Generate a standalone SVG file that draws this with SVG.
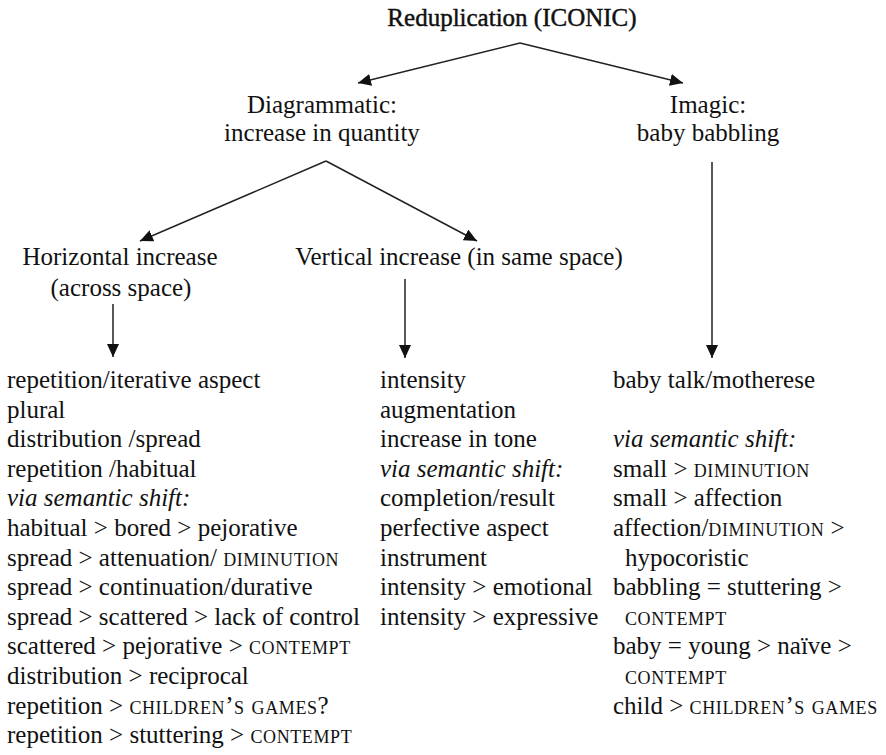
<svg xmlns="http://www.w3.org/2000/svg" width="886" height="755" viewBox="0 0 886 755">
  <style>
    text { font-family: "Liberation Serif", "DejaVu Serif", serif; font-size: 25px; fill: #111; }
    .c { text-anchor: middle; }
    .title { stroke: #111; stroke-width: 0.45; }
    .it { font-style: italic; }
    .sc { font-variant: small-caps; letter-spacing: 0.6px; }
    .edge { stroke: #222; stroke-width: 1.5; fill: none; marker-end: url(#head); }
  </style>
  <defs>
    <marker id="head" markerUnits="userSpaceOnUse" markerWidth="14" markerHeight="12" refX="13" refY="6" orient="auto">
      <path d="M0,0 L13,6 L0,12 Z" fill="#111"/>
    </marker>
  </defs>

  <rect width="886" height="755" fill="#fff"/>

  <!-- connectors -->
  <g id="connectors">
    <path class="edge" d="M520,43 L358,83"/>
    <path class="edge" d="M520,43 L683,83"/>
    <path class="edge" d="M326,161 L140,241"/>
    <path class="edge" d="M326,161 L477,241"/>
    <path class="edge" d="M113,304 L113,357"/>
    <path class="edge" d="M405,279 L405,358"/>
    <path class="edge" d="M712,162 L712,358"/>
  </g>

  <g id="root">
    <text class="c title" x="512" y="26">Reduplication (ICONIC)</text>
  </g>

  <g id="diagrammatic">
    <text class="c" x="322" y="113">Diagrammatic:</text>
    <text class="c" x="322" y="141">increase in quantity</text>
  </g>

  <g id="imagic">
    <text class="c" x="708" y="113">Imagic:</text>
    <text class="c" x="708" y="141">baby babbling</text>
  </g>

  <g id="horizontal">
    <text class="c" x="120" y="265">Horizontal increase</text>
    <text class="c" x="121" y="296">(across space)</text>
  </g>

  <g id="vertical">
    <text class="c" x="459" y="265">Vertical increase (in same space)</text>
  </g>

  <!-- meanings: horizontal increase -->
  <g id="horizontal-list">
    <text x="7" y="388">repetition/iterative aspect</text>
    <text x="7" y="417.6">plural</text>
    <text x="7" y="447.2">distribution /spread</text>
    <text x="7" y="476.8">repetition /habitual</text>
    <text x="7" y="506.4" class="it">via semantic shift:</text>
    <text x="7" y="536">habitual &gt; bored &gt; pejorative</text>
    <text x="7" y="565.6">spread &gt; attenuation/ <tspan class="sc">diminution</tspan></text>
    <text x="7" y="595.2">spread &gt; continuation/durative</text>
    <text x="7" y="624.8">spread &gt; scattered &gt; lack of control</text>
    <text x="7" y="654.4">scattered &gt; pejorative &gt; <tspan class="sc">contempt</tspan></text>
    <text x="7" y="684">distribution &gt; reciprocal</text>
    <text x="7" y="713.6">repetition &gt; <tspan class="sc">children’s games?</tspan></text>
    <text x="7" y="743.2">repetition &gt; stuttering &gt; <tspan class="sc">contempt</tspan></text>
  </g>

  <!-- meanings: vertical increase -->
  <g id="vertical-list">
    <text x="380" y="388">intensity</text>
    <text x="380" y="417.6">augmentation</text>
    <text x="380" y="447.2">increase in tone</text>
    <text x="380" y="476.8" class="it">via semantic shift:</text>
    <text x="380" y="506.4">completion/result</text>
    <text x="380" y="536">perfective aspect</text>
    <text x="380" y="565.6">instrument</text>
    <text x="380" y="595.2">intensity &gt; emotional</text>
    <text x="380" y="624.8">intensity &gt; expressive</text>
  </g>

  <!-- meanings: imagic -->
  <g id="imagic-list">
    <text x="613" y="388">baby talk/motherese</text>
    <text x="613" y="447.2" class="it">via semantic shift:</text>
    <text x="613" y="476.8">small &gt; <tspan class="sc">diminution</tspan></text>
    <text x="613" y="506.4">small &gt; affection</text>
    <text x="613" y="536">affection/<tspan class="sc">diminution</tspan> &gt;</text>
    <text x="625" y="565.6">hypocoristic</text>
    <text x="613" y="595.2">babbling = stuttering &gt;</text>
    <text x="625" y="624.8" class="sc">contempt</text>
    <text x="613" y="654.4">baby = young &gt; naïve &gt;</text>
    <text x="625" y="684" class="sc">contempt</text>
    <text x="613" y="713.6">child &gt; <tspan class="sc">children’s games</tspan></text>
  </g>
</svg>
